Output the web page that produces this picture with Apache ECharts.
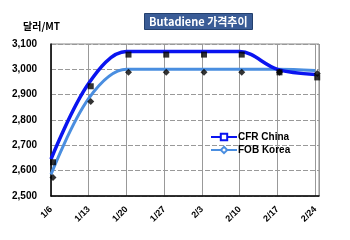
<!DOCTYPE html>
<html><head><meta charset="utf-8">
<script src="https://cdn.jsdelivr.net/npm/echarts@6/dist/echarts.min.js"></script>
<style>html,body{margin:0;padding:0;background:#fff}#c{width:350px;height:240px}</style>
</head><body><div id="c"></div>
<script>
var categories = ['1/6','1/13','1/20','1/27','2/3','2/10','2/17','2/24'];
var cfrChina = [2645, 2945, 3070, 3070, 3070, 3070, 3000, 2980];
var fobKorea = [2585, 2885, 3000, 3000, 3000, 3000, 3000, 2995];
var yTicks = [2500, 2600, 2700, 2800, 2900, 3000, 3100];

function pts(arr){ return arr.map(function(v,i){ return [i, v]; }); }
var font = '"Liberation Sans", Arial, sans-serif';
var chart = echarts.init(document.getElementById('c'));
chart.setOption({
  backgroundColor: '#ffffff',
  animation: false,
  title: {
    text: 'Butadiene 가격추이',
    left: 144, top: 13,
    backgroundColor: '#3a5c96',
    borderColor: '#23406e', borderWidth: 1,
    padding: [3, 5, 3, 5],
    textStyle: { color: '#ffffff', fontSize: 11, fontWeight: 'bold', fontFamily: '"Noto Sans CJK KR", ' + font }
  },
  graphic: [{
    type: 'text', left: 23, top: 21,
    style: { text: '달러/MT', fontSize: 10, fontWeight: 'bold', fill: '#000', fontFamily: '"Noto Sans CJK KR", ' + font }
  }],
  grid: { left: 51, top: 44, right: 31, bottom: 44, show: true, borderColor: '#888', borderWidth: 1 },
  legend: {
    orient: 'vertical', left: 205, top: 127, itemGap: 3, itemWidth: 26, itemHeight: 8,
    textStyle: { fontSize: 10, fontWeight: 'bold', color: '#000', fontFamily: font, padding: [0,0,0,-4] },
    data: ['CFR China', 'FOB Korea']
  },
  xAxis: {
    type: 'value', min: 0, max: 7.1, interval: 1,
    axisLine: { show: true, onZero: false, lineStyle: { color: '#000', width: 1.5 } },
    axisTick: { show: false },
    splitLine: { show: true, lineStyle: { color: '#999', width: 1 } },
    axisLabel: {
      rotate: 45, margin: 12, fontSize: 9, fontWeight: 'bold', color: '#000', fontFamily: font,
      showMaxLabel: false,
      formatter: function(v){ var i = Math.round(v); return (Math.abs(v - i) < 1e-6 && categories[i]) ? categories[i] : ''; }
    }
  },
  yAxis: {
    type: 'value', min: yTicks[0], max: yTicks[yTicks.length-1], interval: 100,
    axisLine: { show: true, lineStyle: { color: '#000', width: 1.5 } },
    axisTick: { show: false },
    splitLine: { show: true, lineStyle: { color: '#999', width: 1, type: [5, 2] } },
    axisLabel: {
      margin: 14, fontSize: 10, fontWeight: 'bold', color: '#000', fontFamily: font,
      formatter: function(v){ return v.toLocaleString('en-US'); }
    }
  },
  series: [
    { name: 'CFR China', type: 'line', data: pts(cfrChina), smooth: 0.35,
      color: '#0a14f0',
      lineStyle: { color: '#0a14f0', width: 3.5 },
      symbol: 'rect', symbolSize: 7, showSymbol: false,
      itemStyle: { color: '#ffffff', borderColor: '#0a14f0', borderWidth: 2 }, z: 3 },
    { name: 'FOB Korea', type: 'line', data: pts(fobKorea), smooth: 0.35,
      color: '#4a8ee0',
      lineStyle: { color: '#4a8ee0', width: 3 },
      symbol: 'diamond', symbolSize: 6, showSymbol: false,
      itemStyle: { color: '#ffffff', borderColor: '#4a8ee0', borderWidth: 1.5 }, z: 2 },
    { name: 'cfrPts', type: 'scatter', data: pts(cfrChina), symbol: 'rect', symbolSize: 6,
      symbolOffset: [2, 3], itemStyle: { color: '#000' }, z: 4, silent: true },
    { name: 'fobPts', type: 'scatter', data: pts(fobKorea), symbol: 'diamond', symbolSize: [7, 7],
      symbolOffset: [2, 3], itemStyle: { color: '#000' }, z: 4, silent: true }
  ]
});
</script></body></html>
